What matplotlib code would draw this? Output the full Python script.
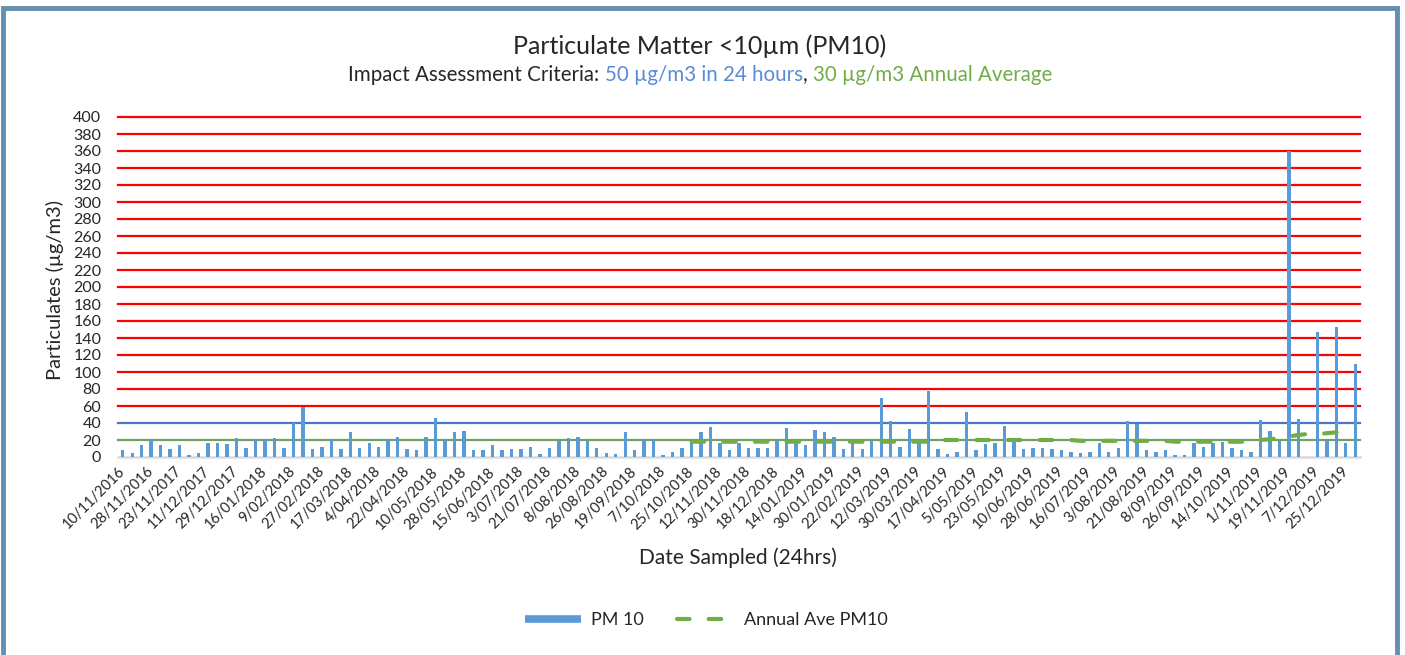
import matplotlib
matplotlib.use('Agg')
import matplotlib.pyplot as plt
import numpy as np
from matplotlib.lines import Line2D
from matplotlib.patches import Rectangle

plt.rcParams['font.family'] = ['Lato', 'DejaVu Sans']

# ---------------- data ----------------
tick_labels = ["10/11/2016", "28/11/2016", "23/11/2017", "11/12/2017", "29/12/2017",
               "16/01/2018", "9/02/2018", "27/02/2018", "17/03/2018", "4/04/2018",
               "22/04/2018", "10/05/2018", "28/05/2018", "15/06/2018", "3/07/2018",
               "21/07/2018", "8/08/2018", "26/08/2018", "19/09/2018", "7/10/2018",
               "25/10/2018", "12/11/2018", "30/11/2018", "18/12/2018", "14/01/2019",
               "30/01/2019", "22/02/2019", "12/03/2019", "30/03/2019", "17/04/2019",
               "5/05/2019", "23/05/2019", "10/06/2019", "28/06/2019", "16/07/2019",
               "3/08/2019", "21/08/2019", "8/09/2019", "26/09/2019", "14/10/2019",
               "1/11/2019", "19/11/2019", "7/12/2019", "25/12/2019"]

pm10 = [8, 5, 14, 20, 14, 10, 14, 2, 5, 16, 16, 15, 22, 11, 20, 20, 22, 11, 40, 59,
        10, 12, 20, 10, 30, 11, 16, 12, 20, 24, 10, 8, 24, 46, 20, 29, 31, 8, 8, 14,
        8, 9, 9, 12, 4, 11, 19, 22, 23, 19, 11, 5, 3, 29, 8, 20, 20, 2, 6, 11,
        18, 29, 35, 16, 8, 16, 11, 11, 11, 19, 34, 16, 14, 32, 30, 24, 9, 16, 9, 19,
        69, 42, 12, 33, 16, 78, 9, 3, 6, 53, 8, 15, 16, 37, 18, 9, 11, 11, 9, 8,
        6, 5, 6, 16, 6, 11, 42, 39, 8, 6, 8, 2, 2, 16, 12, 16, 18, 11, 8, 6,
        44, 31, 19, 360, 45, np.nan, 147, 19, 153, 16, 110]

annual_start = 60
annual_vals = [18, 18, 18, 18, 18, 18, 18, 18, 18, 18, 18, 18, 18, 18, 18, 18, 18, 18,
               18, 18, 18, 18, 18, 18, 18, 18,
               20, 20, 20, 20, 20, 20, 20, 20, 20, 20, 20, 20, 20, 20, 20,
               19, 19, 19, 19, 19, 19, 19, 19, 19, 19,
               18, 18, 18, 18, 18, 18, 18, 18,
               19, 20, 21, 22, 24, 26, 27, 27, 28, 29, 30, 32]

title = "Particulate Matter <10µm (PM10)"
sub_parts = [("Impact Assessment Criteria: ", "#262626"),
             ("50 µg/m3 in 24 hours", "#5B8BD6"),
             (", ", "#262626"),
             ("30 µg/m3 Annual Average", "#70AD47")]

# ---------------- figure ----------------
W, H = 1405, 655
fig = plt.figure(figsize=(W / 100, H / 100), dpi=100)
fig.patch.set_facecolor('white')

# outer frame
fig.add_artist(Rectangle((3 / W, -0.05), (1397 - 3) / W, 1.05 - 8 / H,
                         transform=fig.transFigure, fill=False,
                         edgecolor='#6490B0', lw=3.5))

ax = fig.add_axes([118 / W, 1 - 457 / H, 1242 / W, 340 / H])
n = len(pm10)
x = np.arange(n)
annual = np.full(n, np.nan)
annual[annual_start:annual_start + len(annual_vals)] = annual_vals

ax.set_xlim(-0.5, n - 0.5)
ax.set_ylim(0, 400)
yt = np.arange(0, 401, 20)
ax.set_yticks(yt)
for v in yt[1:]:
    c = '#FF0000'
    if v == 20:
        c = '#6FA262'
    elif v == 40:
        c = '#4A78C8'
    ax.axhline(v, color=c, lw=1.6, zorder=1, clip_on=False)

ax.bar(x, pm10, width=0.36, color='#5B9BD5', zorder=3)
ax.plot(x, annual, color='#70AD47', lw=3.0, linestyle=(0, (3.0, 4.6)),
        dash_capstyle='round', zorder=4)

for s in ['top', 'right', 'left']:
    ax.spines[s].set_visible(False)
ax.spines['bottom'].set_color('#D9D9D9')
ax.spines['bottom'].set_linewidth(1.8)

ax.set_xticks(x[::3][:len(tick_labels)])
ax.set_xticklabels(tick_labels, rotation=45, ha='right', va='center',
                   rotation_mode='anchor', fontsize=10.5, color='#262626')
ax.tick_params(axis='x', length=0, pad=9)
ax.tick_params(axis='y', length=0, pad=12, labelsize=11.5, labelcolor='#262626')

fig.text(55 / W, 1 - 290 / H, "Particulates (µg/m3)", rotation=90, ha='center',
         va='center', fontsize=14.5, color='#262626')
fig.text(738 / W, 1 - 558 / H, "Date Sampled (24hrs)", ha='center', va='center',
         fontsize=15, color='#262626')

fig.text(700 / W, 1 - 46 / H, title, ha='center', va='center', fontsize=18,
         color='#262626')

# multi-coloured subtitle
renderer = fig.canvas.get_renderer()
texts = []
for s, c in sub_parts:
    t = fig.text(0, 1 - 75 / H, s, ha='left', va='center', fontsize=14.8, color=c)
    texts.append(t)
widths = [t.get_window_extent(renderer).width for t in texts]
total = sum(widths)
xpos = 700 - total / 2
for t, w in zip(texts, widths):
    t.set_x(xpos / W)
    xpos += w

# legend
handles = [Line2D([0], [0], color='#5B9BD5', lw=5.5, solid_capstyle='butt'),
           Line2D([0], [0], color='#70AD47', lw=3.0, linestyle=(0, (3.0, 4.6)),
                  dash_capstyle='round')]
fig.legend(handles, ["PM 10", "Annual Ave PM10"], loc='center',
           bbox_to_anchor=(706 / W, 1 - 620 / H), ncol=2, frameon=False,
           fontsize=13, handlelength=3.1, columnspacing=1.8, handletextpad=0.6,
           labelcolor='#262626')

fig.savefig('out.png', dpi=100)
